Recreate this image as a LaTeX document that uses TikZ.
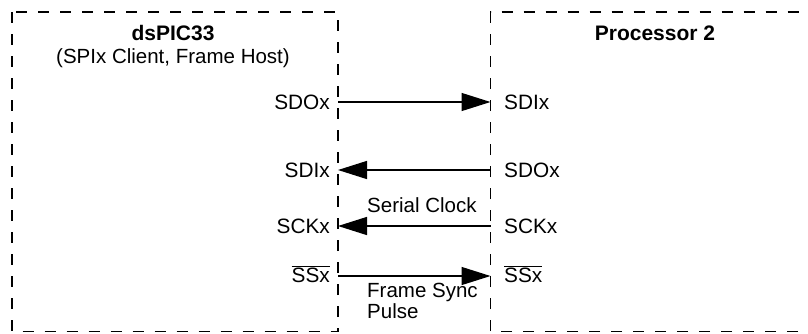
\documentclass[tikz,border=0pt]{standalone}
\usepackage{fontspec}
\setmainfont{Liberation Sans}
\usetikzlibrary{arrows.meta}
\tikzset{
  boxline/.style={line width=1.7bp, dash pattern=on 11bp off 11bp},
  pinlbl/.style={inner sep=0pt, font=\fontsize{20.8bp}{23bp}\selectfont},
  lpin/.style={pinlbl, anchor=east},
  rpin/.style={pinlbl, anchor=west},
  sig/.style={line width=1.4bp, -{Triangle[length=29bp,width=18bp]}},
  txtlbl/.style={inner sep=0pt, font=\fontsize{20.5bp}{21bp}\selectfont},
  titlelbl/.style={inner sep=0pt, font=\fontsize{21bp}{23bp}\selectfont\bfseries},
}
\newcommand{\barsig}[1]{$\overline{\mbox{#1}}$}
\begin{document}
\begin{tikzpicture}[x=1bp,y=-1bp]
\useasboundingbox (0,0) rectangle (808,333);
% boxes
\draw[boxline] (12,12) rectangle (338,331.5);
\draw[boxline] (820,331.5) -- (490.5,331.5) -- (490.5,12) -- (830,12);
% titles
\node[titlelbl] (t1) at (173,33) {dsPIC33};
\node[txtlbl] (t2) at (173,58) {(SPIx Client, Frame Host)};
\node[titlelbl] (t3) at (655,33) {Processor 2};
% pins left
\node[lpin] (lsdo) at (330,102) {SDOx};
\node[lpin] (lsdi) at (330,170) {SDIx};
\node[lpin] (lsck) at (330,226) {SCKx};
\node[lpin] (lss) at (330,274) {\barsig{SSx}};
% pins right
\node[rpin] (rsdi) at (504,102) {SDIx};
\node[rpin] (rsdo) at (504,170) {SDOx};
\node[rpin] (rsck) at (504,226) {SCKx};
\node[rpin] (rss) at (504,274) {\barsig{SSx}};
% edge coordinates
\coordinate (a1) at (338,102);
\coordinate (b1) at (490.5,102);
\coordinate (a2) at (338,170);
\coordinate (b2) at (490.5,170);
\coordinate (a3) at (338,226);
\coordinate (b3) at (490.5,226);
\coordinate (a4) at (338,276);
\coordinate (b4) at (490.5,276);
% signals
\draw[sig] (a1) -- (b1);
\draw[sig] (b2) -- (a2);
\draw[sig] (b3) -- (a3);
\draw[sig] (a4) -- (b4);
% captions
\node[txtlbl, anchor=west] (sc) at (367,205) {Serial Clock};
\node[txtlbl, anchor=north west, align=left] (fs) at (367,283) {Frame Sync\\Pulse};
\end{tikzpicture}
\end{document}
